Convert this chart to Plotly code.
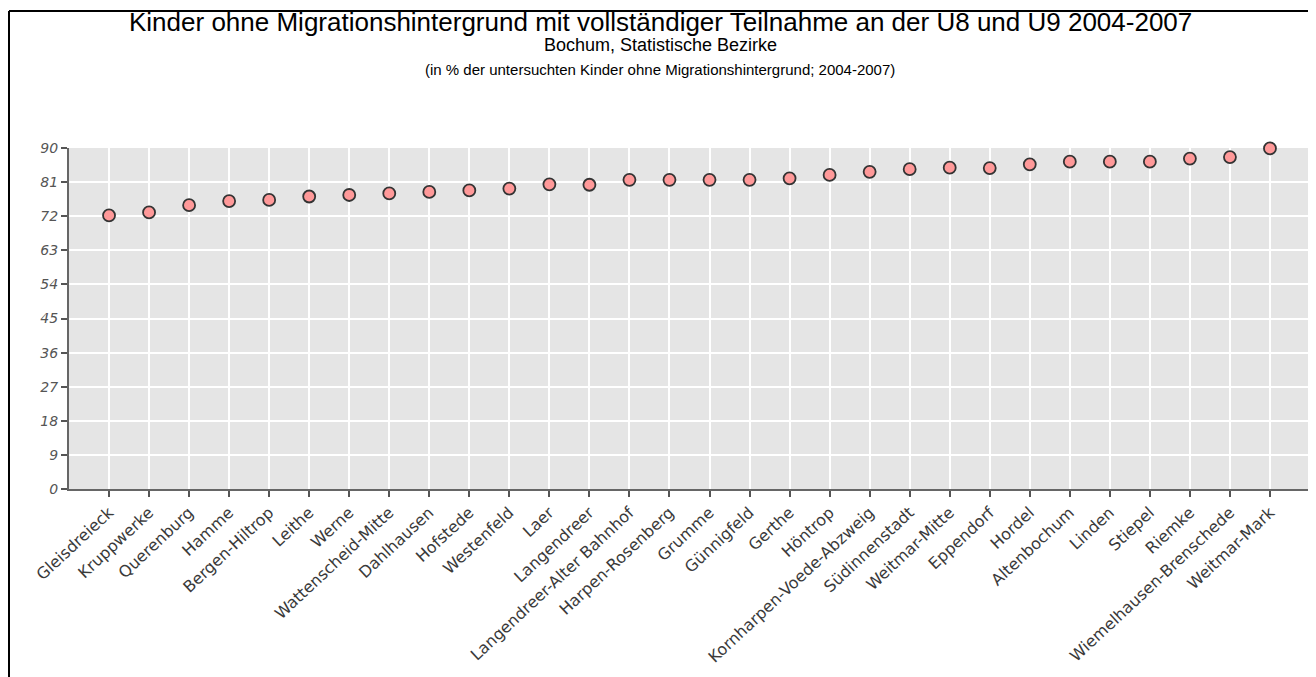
import plotly.graph_objects as go

# Statistische Bezirke, sorted by share
bezirke = [
    "Gleisdreieck", "Kruppwerke", "Querenburg", "Hamme", "Bergen-Hiltrop",
    "Leithe", "Werne", "Wattenscheid-Mitte", "Dahlhausen", "Hofstede",
    "Westenfeld", "Laer", "Langendreer", "Langendreer-Alter Bahnhof",
    "Harpen-Rosenberg", "Grumme", "Günnigfeld", "Gerthe", "Höntrop",
    "Kornharpen-Voede-Abzweig", "Südinnenstadt", "Weitmar-Mitte", "Eppendorf",
    "Hordel", "Altenbochum", "Linden", "Stiepel", "Riemke",
    "Wiemelhausen-Brenschede", "Weitmar-Mark",
]
anteil = [
    72.2, 73.0, 74.9, 76.0, 76.3,
    77.2, 77.6, 78.0, 78.4, 78.8,
    79.3, 80.4, 80.3, 81.6,
    81.6, 81.6, 81.6, 82.0, 82.9,
    83.7, 84.4, 84.8, 84.7,
    85.7, 86.4, 86.4, 86.4, 87.2,
    87.6, 89.9,
]
y_ticks = [0, 9, 18, 27, 36, 45, 54, 63, 72, 81, 90]

title = "Kinder ohne Migrationshintergrund mit vollständiger Teilnahme an der U8 und U9 2004-2007"
subtitle = "Bochum, Statistische Bezirke"
note = "(in % der untersuchten Kinder ohne Migrationshintergrund; 2004-2007)"

fig = go.Figure(go.Scatter(
    x=bezirke,
    y=anteil,
    mode="markers",
    marker=dict(size=12, color="#ff9999", line=dict(color="#333333", width=1.8)),
    cliponaxis=False,
    hovertemplate="%{x}: %{y}<extra></extra>",
))

# page body has an 8px margin, so the figure starts at (8, 8)
# wanted plot area on the page: x 69..1310, y 148..489
OFF = 8
W, H = 1308, 669
L, T, PW, PH = 61, 140, 1241, 341


def px(x):
    # page pixel -> paper x
    return (x - OFF - L) / PW


def py(y):
    # page pixel -> paper y
    return (T + PH - (y - OFF)) / PH


fig.update_layout(
    width=W, height=H,
    margin=dict(l=L, r=W - L - PW, t=T, b=H - T - PH),
    paper_bgcolor="white",
    plot_bgcolor="#e5e5e5",
    showlegend=False,
    font=dict(family="DejaVu Sans", color="#333333"),
    xaxis=dict(
        range=[-1, len(bezirke)],
        tickangle=-43,
        tickfont=dict(size=16, color="#3a3a3a"),
        showgrid=True, gridcolor="white", gridwidth=1.5,
        showline=True, linecolor="#666666", linewidth=2,
        ticks="outside", ticklen=6, tickcolor="#555555", tickwidth=2,
        zeroline=False, fixedrange=True,
    ),
    yaxis=dict(
        range=[0, 90],
        tickvals=y_ticks,
        tickfont=dict(size=14, color="#555555", style="italic"),
        showgrid=True, gridcolor="white", gridwidth=1.5,
        showline=True, linecolor="#666666", linewidth=2,
        ticks="outside", ticklen=6, tickcolor="#555555", tickwidth=1.5,
        zeroline=False, fixedrange=True,
    ),
    annotations=[
        dict(text=title, x=px(660), y=py(22), xref="paper", yref="paper",
             xanchor="center", yanchor="middle", showarrow=False,
             font=dict(family="Liberation Sans", size=26, color="black")),
        dict(text=subtitle, x=px(660), y=py(45), xref="paper", yref="paper",
             xanchor="center", yanchor="middle", showarrow=False,
             font=dict(family="Liberation Sans", size=18, color="black")),
        dict(text=note, x=px(660), y=py(69), xref="paper", yref="paper",
             xanchor="center", yanchor="middle", showarrow=False,
             font=dict(family="Liberation Sans", size=15, color="black")),
    ],
    shapes=[
        # outer frame (left and top edges)
        dict(type="line", xref="paper", yref="paper",
             x0=px(9), x1=px(9), y0=py(11), y1=py(H + 20),
             line=dict(color="black", width=2)),
        dict(type="line", xref="paper", yref="paper",
             x0=px(9), x1=px(W + 20), y0=py(11), y1=py(11),
             line=dict(color="black", width=2)),
    ],
)

fig.write_html("out.html")
